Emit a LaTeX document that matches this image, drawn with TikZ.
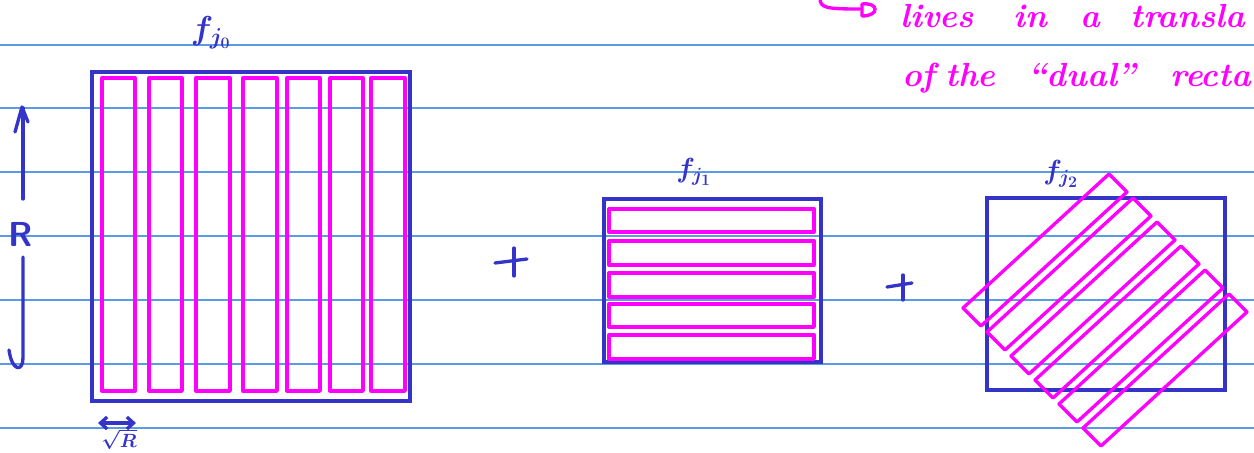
\documentclass[tikz,border=0pt]{standalone}
\usetikzlibrary{arrows.meta}
\definecolor{penblue}{RGB}{52,52,200}
\definecolor{penmag}{RGB}{255,0,255}
\definecolor{ruleblue}{RGB}{90,155,230}
\begin{document}
\begin{tikzpicture}[x=0.75pt,y=-0.75pt,
  bluebox/.style={draw=penblue,line width=2.7pt},
  strip/.style={draw=penmag,line width=2.5pt,line join=round},
  ruleline/.style={draw=ruleblue,line width=1.1pt},
  ink/.style={draw=penblue,line width=2.5pt,line cap=round,line join=round},
  magink/.style={draw=penmag,line width=2.5pt,line cap=round,line join=round},
  hand/.style={text=penmag,font=\fontsize{25}{30}\selectfont\bfseries\itshape,anchor=base west,inner sep=0pt},
  flabel/.style={text=penblue,inner sep=0pt}]
\useasboundingbox (0,0) rectangle (1254,453);
\clip (0,0) rectangle (1254,453);
% ruled paper
\foreach \y in {45,108,172,236,300,364,428} \draw[ruleline] (0,\y) -- (1254,\y);
% big square with vertical strips
\draw[bluebox] (92,72) rectangle (410,401);
\foreach \a/\b in {102/135,149/182,196/230,243/277,287/320,330/363,371/405}
  \draw[strip] (\a,78) rectangle (\b,391);
% middle box with horizontal strips
\draw[bluebox] (604,199) rectangle (821,362);
\foreach \t/\b in {209/232,241/265,273/297,304/327,335/359}
  \draw[strip] (609,\t) rectangle (814,\b);
% right box with rotated strips
\draw[bluebox] (987,198) rectangle (1225,390);
\foreach \k in {0,...,5}
  \draw[strip] ({963+24*\k},{308+24*\k}) -- ++(146,-134) -- ++(18,18) -- ++(-146,134) -- cycle;
% labels
\node[flabel,font=\fontsize{26}{30}\selectfont\boldmath] (f0) at (211,33) {$f_{j_0}$};
\node[flabel,font=\fontsize{20.74}{24}\selectfont\boldmath] (f1) at (694,172) {$f_{j_1}$};
\node[flabel,font=\fontsize{20.74}{24}\selectfont\boldmath] (f2) at (1061,174) {$f_{j_2}$};
% R arrow
\draw[ink] (23,199) -- (23,108);
\draw[ink] (15,132) -- (22,107) -- (28,122);
\draw[ink] (23,257) -- (23,358) .. controls (23,372) and (12,372) .. (9,350);
\node[text=penblue,font=\fontsize{26}{30}\selectfont\sffamily\bfseries] (R) at (21,234) {R};
% sqrt R arrow
\coordinate (sl) at (98,423);
\coordinate (sr) at (136,423);
\draw[ink,{Straight Barb[length=5pt,width=9pt]}-{Straight Barb[length=5pt,width=9pt]}] (sl) -- (sr);
\node[text=penblue,font=\fontsize{14.4}{16}\selectfont\boldmath] (sq) at (119,439) {$\sqrt{R}$};
% plus signs
\draw[ink] (514,248) -- (514,276);
\draw[ink] (495,263) -- (527,259);
\draw[ink] (903,275) -- (903,300);
\draw[ink] (887,287) -- (912,283);
% handwritten note
\draw[magink] (820,-2) .. controls (820,8) and (826,9) .. (860,9);
\draw[magink] (862,16) -- (862,4) .. controls (879,2) and (880,16) .. (862,16);
\node[hand] (w1) at (900,28) {lives};
\node[hand] (w2) at (1013,28) {in};
\node[hand] (w3) at (1080,28) {a};
\node[hand] (w4) at (1130,28) {transla};
\node[hand] (v1) at (902,87) {of};
\node[hand] (v2) at (945,87) {the};
\node[hand] (v3) at (1027,87) {``dual''};
\node[hand] (v4) at (1170,87) {recta};
\end{tikzpicture}
\end{document}
